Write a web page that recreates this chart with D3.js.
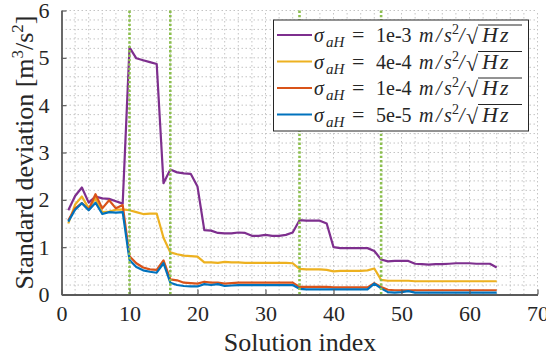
<!DOCTYPE html>
<html>
<head>
<meta charset="utf-8">
<script src="https://cdn.jsdelivr.net/npm/d3@7"></script>
<style>
  body { margin: 0; background: #fff; }
  text { font-family: "Liberation Serif", "Times New Roman", serif; fill: #262626; }
</style>
</head>
<body>
<div id="graph"></div>
<script>
// solution index 1..64
var solIndex = d3.range(1, 65);

var sd1e3 = [1.78, 2.08, 2.26, 1.94, 2.07, 2.03, 2.02, 1.97, 1.92, 5.22,
  4.99, 4.95, 4.91, 4.87, 2.35, 2.64, 2.58, 2.56, 2.55, 2.28,
  1.36, 1.35, 1.30, 1.29, 1.29, 1.31, 1.30, 1.24, 1.24, 1.26,
  1.24, 1.24, 1.26, 1.31, 1.57, 1.56, 1.56, 1.56, 1.50, 1.00,
  0.98, 0.98, 0.98, 0.98, 0.98, 0.92, 0.74, 0.70, 0.71, 0.71,
  0.71, 0.65, 0.64, 0.63, 0.64, 0.64, 0.65, 0.66, 0.66, 0.66,
  0.65, 0.65, 0.65, 0.57];
var sd4e4 = [1.50, 1.90, 2.07, 1.82, 2.03, 1.74, 1.75, 1.79, 1.80, 1.78,
  1.74, 1.70, 1.71, 1.71, 1.20, 0.89, 0.85, 0.82, 0.81, 0.80,
  0.68, 0.68, 0.67, 0.69, 0.68, 0.68, 0.67, 0.67, 0.67, 0.67,
  0.67, 0.67, 0.67, 0.66, 0.54, 0.53, 0.53, 0.53, 0.52, 0.49,
  0.50, 0.50, 0.50, 0.50, 0.51, 0.55, 0.31, 0.29, 0.29, 0.29,
  0.29, 0.28, 0.28, 0.28, 0.28, 0.28, 0.28, 0.28, 0.28, 0.28,
  0.28, 0.28, 0.28, 0.28];
var sd1e4 = [1.57, 1.82, 1.93, 1.79, 2.12, 1.82, 1.99, 1.82, 1.89, 0.81,
  0.66, 0.57, 0.53, 0.52, 0.72, 0.32, 0.30, 0.25, 0.24, 0.23,
  0.27, 0.25, 0.25, 0.23, 0.24, 0.25, 0.25, 0.25, 0.25, 0.25,
  0.25, 0.25, 0.25, 0.25, 0.16, 0.16, 0.16, 0.16, 0.16, 0.15,
  0.15, 0.15, 0.15, 0.15, 0.15, 0.24, 0.16, 0.10, 0.09, 0.09,
  0.09, 0.09, 0.09, 0.09, 0.09, 0.09, 0.09, 0.09, 0.09, 0.09,
  0.09, 0.09, 0.09, 0.09];
var sd5e5 = [1.54, 1.79, 1.93, 1.78, 1.94, 1.70, 1.74, 1.73, 1.74, 0.73,
  0.58, 0.51, 0.48, 0.46, 0.66, 0.25, 0.20, 0.18, 0.17, 0.17,
  0.22, 0.20, 0.22, 0.18, 0.19, 0.20, 0.20, 0.20, 0.20, 0.20,
  0.20, 0.20, 0.20, 0.20, 0.12, 0.11, 0.11, 0.11, 0.11, 0.11,
  0.11, 0.11, 0.11, 0.11, 0.11, 0.23, 0.13, 0.05, 0.04, 0.05,
  0.07, 0.04, 0.04, 0.04, 0.04, 0.04, 0.04, 0.04, 0.04, 0.04,
  0.04, 0.04, 0.04, 0.04];

var seriesNames = ["1e-3", "4e-4", "1e-4", "5e-5"];
var seriesValues = [sd1e3, sd4e4, sd1e4, sd5e5];
var seriesColors = ["#7E2F8E", "#EDB120", "#D95319", "#0072BD"];

// vertical markers
var markers = [10, 16, 35, 47];

var xTicks = [0, 10, 20, 30, 40, 50, 60, 70];
var yTicks = [0, 1, 2, 3, 4, 5, 6];

var width = 546, height = 358;
var margin = { left: 61.5, right: 8.5, top: 10.5, bottom: 63.5 };

var svg = d3.select("#graph").append("svg")
    .attr("width", width)
    .attr("height", height);

var x = d3.scaleLinear().domain([0, 70]).range([margin.left, width - margin.right]);
var y = d3.scaleLinear().domain([0, 6]).range([height - margin.bottom, margin.top]);

// grid (dotted, minor + major)
var grid = svg.append("g").attr("class", "grid");
grid.selectAll(".gx").data(d3.range(2, 70.1, 2)).enter().append("line")
    .attr("x1", d => x(d)).attr("x2", d => x(d))
    .attr("y1", y(0)).attr("y2", y(6))
    .attr("stroke", "#c4c4c4").attr("stroke-width", 1)
    .attr("stroke-dasharray", "1.5,2.5");
grid.selectAll(".gy").data(d3.range(1, 31).map(d => d * 0.2)).enter().append("line")
    .attr("x1", x(0)).attr("x2", x(70))
    .attr("y1", d => y(d)).attr("y2", d => y(d))
    .attr("stroke", "#c4c4c4").attr("stroke-width", 1)
    .attr("stroke-dasharray", "1.5,2.5");

// data lines
var line = d3.line()
    .x((d, i) => x(solIndex[i]))
    .y(d => y(d));

svg.append("g").selectAll("path")
    .data(seriesValues)
    .enter().append("path")
    .attr("d", d => line(d))
    .attr("fill", "none")
    .attr("stroke", (d, i) => seriesColors[i])
    .attr("stroke-width", 2.2)
    .attr("stroke-linejoin", "round");

// green dotted markers
svg.append("g").selectAll("line")
    .data(markers).enter().append("line")
    .attr("x1", d => x(d)).attr("x2", d => x(d))
    .attr("y1", y(0)).attr("y2", y(6))
    .attr("stroke", "#8cbf4f").attr("stroke-width", 2.6)
    .attr("stroke-dasharray", "2.4,2");

// axes
var xAxis = d3.axisBottom(x).tickValues(xTicks).tickFormat(d3.format("d"))
    .tickSizeInner(-5).tickSizeOuter(0).tickPadding(11);
var yAxis = d3.axisLeft(y).tickValues(yTicks).tickFormat(d3.format("d"))
    .tickSizeInner(-5).tickSizeOuter(0).tickPadding(12);

var gx = svg.append("g").attr("transform", "translate(0," + y(0) + ")").call(xAxis);
var gy = svg.append("g").attr("transform", "translate(" + x(0) + ",0)").call(yAxis);
[gx, gy].forEach(function(g) {
    g.select(".domain").attr("stroke", "#5a5a5a").attr("stroke-width", 1.8);
    g.selectAll(".tick line").attr("stroke", "#5a5a5a").attr("stroke-width", 1.2);
    g.selectAll(".tick text").style("font-family", "Liberation Serif, serif")
        .style("font-size", "22px").attr("fill", "#262626");
});
gx.selectAll(".tick text").attr("dy", "0.71em");

// axis labels
svg.append("text")
    .attr("x", 300)
    .attr("y", 351)
    .attr("text-anchor", "middle")
    .style("font-size", "26px")
    .text("Solution index");

var yl = svg.append("text")
    .attr("transform", "translate(33," + ((y(0) + y(6)) / 2) + ") rotate(-90)")
    .attr("text-anchor", "middle")
    .style("font-size", "26px");
yl.append("tspan").text("Standard deviation [m");
yl.append("tspan").attr("dy", -10).style("font-size", "17px").text("3");
yl.append("tspan").attr("dy", 10).text("/s");
yl.append("tspan").attr("dy", -10).style("font-size", "17px").text("2");
yl.append("tspan").attr("dy", 10).text("]");

// legend
var leg = svg.append("g");
leg.append("rect")
    .attr("x", 273.5).attr("y", 20)
    .attr("width", 255).attr("height", 111)
    .attr("fill", "#fff").attr("stroke", "#262626").attr("stroke-width", 1);

var rowY = d3.scalePoint().domain(seriesNames).range([35, 114.5]);

var item = leg.selectAll(".item").data(seriesNames).enter().append("g")
    .attr("transform", d => "translate(0," + rowY(d) + ")");
item.append("line")
    .attr("x1", 277).attr("x2", 312)
    .attr("stroke", (d, i) => seriesColors[i]).attr("stroke-width", 2.2);

var lt = item.append("text")
    .attr("y", 7)
    .style("font-family", "Liberation Serif, serif")
    .style("font-size", "20px");
lt.append("tspan").attr("x", 314).style("font-style", "italic").text("σ");
lt.append("tspan").attr("x", 326).attr("dy", 5).style("font-style", "italic").style("font-size", "15px").text("aH");
lt.append("tspan").attr("x", 352).attr("dy", -5).style("font-size", "22px").text("=");
lt.append("tspan").attr("x", 376).text(d => d);
lt.append("tspan").attr("x", 419).style("font-style", "italic").text("m");
lt.append("tspan").attr("x", 436).style("font-style", "italic").text("/");
lt.append("tspan").attr("x", 444).style("font-style", "italic").text("s");
lt.append("tspan").attr("x", 452).attr("dy", -8).style("font-size", "14px").text("2");
lt.append("tspan").attr("x", 459).attr("dy", 8).style("font-style", "italic").text("/");
lt.append("tspan").attr("x", 466).attr("dy", 2).style("font-size", "22px").text("√");
lt.append("tspan").attr("x", 482).attr("dy", -2).style("font-style", "italic")
    .style("font-size", "22px").style("letter-spacing", "2px").text("Hz");
item.append("line")
    .attr("x1", 478).attr("x2", 522)
    .attr("y1", -10).attr("y2", -10)
    .attr("stroke", "#262626").attr("stroke-width", 1);
</script>
</body>
</html>
